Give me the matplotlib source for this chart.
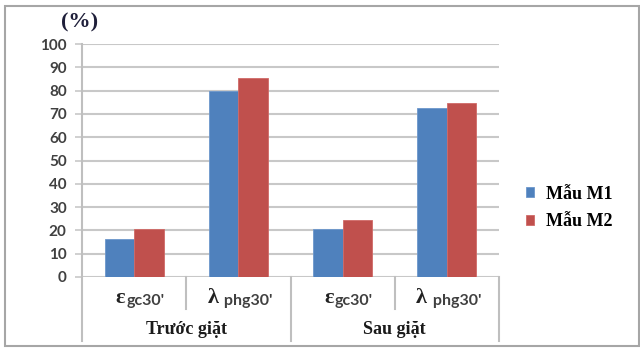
import matplotlib
matplotlib.use("Agg")
import matplotlib.pyplot as plt
from matplotlib.transforms import blended_transform_factory, offset_copy
from matplotlib.patches import Rectangle
from matplotlib.lines import Line2D

# Data
groups = ["Trước giặt", "Sau giặt"]
symbols = ["ε", "λ", "ε", "λ"]
subscripts = ["gc30'", " phg30'", "gc30'", " phg30'"]
series_names = ["Mẫu M1", "Mẫu M2"]
m1_values = [16.3, 79.8, 20.6, 72.4]
m2_values = [20.6, 85.6, 24.5, 74.6]
yticks = list(range(0, 101, 10))

blue = "#4F81BD"
red = "#C0504D"
grid_c = "#C8C8C8"
sep_c = "#BFBFBF"
tick_c = "#404040"

W, H = 640, 349
fig = plt.figure(figsize=(W / 100, H / 100), dpi=100)
fig.patch.set_facecolor("white")

ax_left, ax_right, ax_top, ax_bot = 82, 499, 44, 277
ax = fig.add_axes([ax_left / W, 1 - ax_bot / H, (ax_right - ax_left) / W, (ax_bot - ax_top) / H])

x = list(range(len(symbols)))
bw = 0.283
ax.bar([i - bw / 2 for i in x], m1_values, width=bw, color=blue, edgecolor="#6C97CC", linewidth=0.6, zorder=3, label=series_names[0])
ax.bar([i + bw / 2 for i in x], m2_values, width=bw, color=red, edgecolor="#D06A67", linewidth=0.6, zorder=3, label=series_names[1])

ax.set_xlim(-0.5, len(symbols) - 0.5)
ax.set_ylim(0, 100)
for s in ax.spines.values():
    s.set_visible(False)
ax.set_xticks([])
ax.set_yticks(yticks)
ax.tick_params(axis="y", length=5, width=1.2, color=grid_c, pad=6, labelcolor=tick_c)
for lbl in ax.get_yticklabels():
    lbl.set_fontfamily("Lato")
    lbl.set_fontweight("bold")
    lbl.set_fontsize(11)
for yv in yticks:
    ax.axhline(yv, color=grid_c, lw=1.5, zorder=1)

# category axis separators
btrans = blended_transform_factory(ax.transData, ax.transAxes)
def ypx(p):
    return (ax_bot - p) / (ax_bot - ax_top)
long_bottom = ypx(341)
short_bottom = ypx(309)
for xv, yb in [(-0.5, long_bottom), (0.5, short_bottom), (1.5, long_bottom), (2.5, short_bottom), (3.5, long_bottom)]:
    ax.add_line(Line2D([xv, xv], [1.0 if xv == -0.5 else 0, yb], transform=btrans, color=sep_c, lw=1.5, clip_on=False, zorder=2))

# category labels: symbol + subscript
lab_y = ypx(303)
for i, (sym, sub) in enumerate(zip(symbols, subscripts)):
    if sym == "ε":
        sym_dx, sub_dx = -9, -8
    else:
        sym_dx, sub_dx = -20, -18
    t1 = offset_copy(btrans, fig=fig, x=sym_dx, y=0, units="dots")
    ax.text(i, lab_y, sym, transform=t1, ha="right", va="baseline", fontsize=16, fontweight="bold",
            fontfamily="Liberation Serif", color="#222222")
    t2 = offset_copy(btrans, fig=fig, x=sub_dx, y=-2, units="dots")
    ax.text(i, lab_y, sub, transform=t2, ha="left", va="baseline", fontsize=11.5, fontweight="bold",
            fontfamily="Lato", color=tick_c)

# group labels
for g, name in enumerate(groups):
    ax.text(0.5 + 2 * g, ypx(334), name, transform=btrans, ha="center", va="baseline", fontsize=13,
            fontweight="bold", fontfamily="Liberation Serif", color="#1a1a1a")

# unit label
fig.text(80 / W, 1 - 22 / H, "(%)", ha="center", va="center", fontsize=16, fontweight="bold",
         fontfamily="Liberation Serif", color="#1f1f3a")

# legend
leg = fig.legend(loc="center left", bbox_to_anchor=(510 / W, 1 - 208 / H), frameon=False,
                 prop={"family": "Liberation Serif", "weight": "bold", "size": 13},
                 handlelength=0.42, handleheight=0.42, handletextpad=0.7, labelspacing=0.6)

# outer frame
fig.add_artist(Rectangle((5 / W, 3 / H), 634 / W, 340 / H, transform=fig.transFigure, fill=False,
                         edgecolor="#A6A6A6", lw=1.5))

fig.savefig("out.png", dpi=100, facecolor="white")
